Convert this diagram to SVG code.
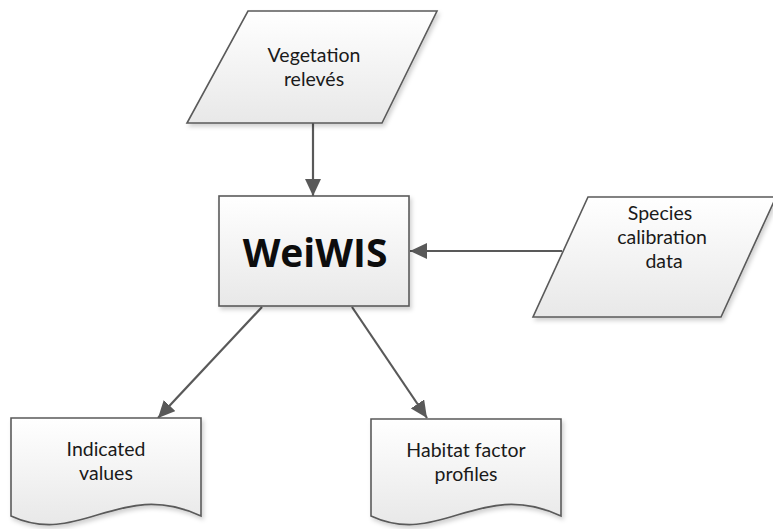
<svg xmlns="http://www.w3.org/2000/svg" width="773" height="529" viewBox="0 0 773 529">
<style>
.shape{fill:url(#g);stroke:#5a5a5a;stroke-width:1.6;filter:url(#sh)}
.lbl{font-family:Lato,"Open Sans","Liberation Sans",sans-serif;font-size:19.5px;fill:#1a1a1a;text-anchor:middle}
.big{font-family:"Open Sans","Liberation Sans",sans-serif;font-size:39px;font-weight:bold;fill:#0d0d0d;text-anchor:middle}
.conn{stroke:#595959;stroke-width:2.2;fill:none;marker-end:url(#ah)}
</style>
<defs>
<linearGradient id="g" x1="0" y1="0" x2="0" y2="1">
<stop offset="0" stop-color="#ffffff"/>
<stop offset="1" stop-color="#e8e8e8"/>
</linearGradient>
<filter id="sh" x="-10%" y="-10%" width="125%" height="130%">
<feDropShadow dx="2" dy="3" stdDeviation="2" flood-color="#000" flood-opacity="0.18"/>
</filter>
<marker id="ah" viewBox="0 0 17 16" refX="17" refY="8" markerWidth="17" markerHeight="16" markerUnits="userSpaceOnUse" orient="auto">
<path d="M0,0 L17,8 L0,16 Z" fill="#595959"/>
</marker>
</defs>
<g id="connectors">
<line class="conn" x1="313" y1="123" x2="313" y2="196"/>
<line class="conn" x1="562" y1="251" x2="410" y2="251"/>
<line class="conn" x1="262" y1="307" x2="158" y2="418"/>
<line class="conn" x1="352" y1="307" x2="427" y2="418"/>
</g>
<g id="vegetation">
<polygon class="shape" points="248,11 437,11 382,123 187,123"/>
<text class="lbl" x="314" y="62">Vegetation</text>
<text class="lbl" x="314" y="86">relevés</text>
</g>
<g id="weiwis">
<rect class="shape" x="219" y="196" width="190" height="110"/>
<text class="big" x="315" y="267">WeiWIS</text>
</g>
<g id="species">
<polygon class="shape" points="588,197 776,197 721,317 533,317"/>
<text class="lbl" x="660" y="220">Species</text>
<text class="lbl" x="662" y="244">calibration</text>
<text class="lbl" x="664" y="268">data</text>
</g>
<g id="indicated">
<path class="shape" d="M11,418 H201 V516 C120,478 80,548 11,516 Z"/>
<text class="lbl" x="106" y="456">Indicated</text>
<text class="lbl" x="106" y="480">values</text>
</g>
<g id="habitat">
<path class="shape" d="M371,419 H561 V516 C480,478 440,548 371,516 Z"/>
<text class="lbl" x="466" y="457">Habitat factor</text>
<text class="lbl" x="466" y="481">profiles</text>
</g>
</svg>
